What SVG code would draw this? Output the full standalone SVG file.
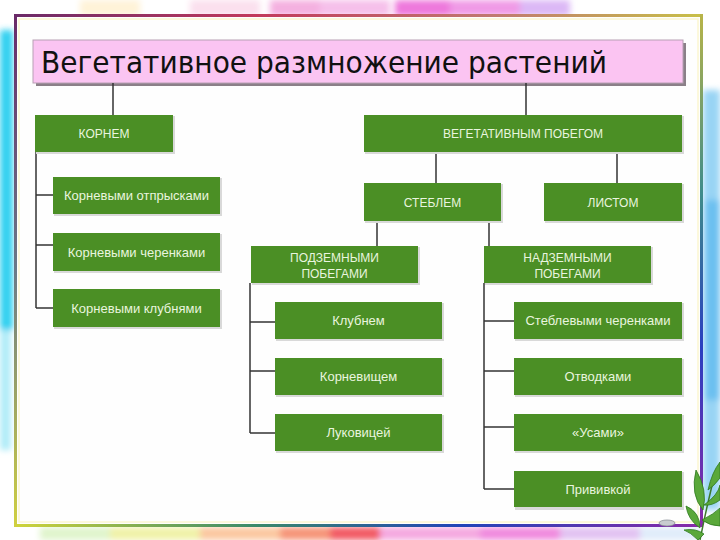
<svg xmlns="http://www.w3.org/2000/svg" width="720" height="540" viewBox="0 0 720 540">
<defs>
<style>
.node rect.box{fill:#4b8f25;}
.node rect.sh{fill:#d9d9d9;}
.node text{fill:#e9f5df;font-family:"Liberation Sans",Arial,sans-serif;text-anchor:middle;}
.up{font-size:12px;}
.lc{font-size:13px;}
#connectors line{stroke:#333;stroke-width:1.5;}
.title{font-family:"DejaVu Sans","Open Sans",sans-serif;font-size:30px;fill:#111;}
.leaf{fill:#5aa83a;stroke:#2f7a20;stroke-width:0.8;}
</style>
<filter id="blur" x="-50%" y="-50%" width="200%" height="200%"><feGaussianBlur stdDeviation="3"/></filter>
<linearGradient id="gTop" x1="0" y1="0" x2="1" y2="0">
<stop offset="0" stop-color="#6a2a68"/><stop offset="0.35" stop-color="#c23a5c"/><stop offset="0.7" stop-color="#c07a70"/><stop offset="1" stop-color="#c8c048"/>
</linearGradient>
<linearGradient id="gRight" x1="0" y1="0" x2="0" y2="1">
<stop offset="0" stop-color="#b8b448"/><stop offset="0.35" stop-color="#3e8c8a"/><stop offset="0.65" stop-color="#2a3fc0"/><stop offset="1" stop-color="#8a2aa8"/>
</linearGradient>
<linearGradient id="gBottom" x1="0" y1="0" x2="1" y2="0">
<stop offset="0" stop-color="#d0d43a"/><stop offset="0.35" stop-color="#3a8a6a"/><stop offset="0.65" stop-color="#2244b8"/><stop offset="1" stop-color="#8a2aa8"/>
</linearGradient>
<linearGradient id="gLeft" x1="0" y1="0" x2="0" y2="1">
<stop offset="0" stop-color="#6a2a68"/><stop offset="0.5" stop-color="#6a7a88"/><stop offset="1" stop-color="#d0d040"/>
</linearGradient>
</defs>

<!-- background -->
<rect width="720" height="540" fill="#ffffff"/>
<g filter="url(#blur)">
<rect x="80" y="0" width="60" height="16" fill="#fff3d8"/>
<rect x="190" y="0" width="70" height="16" fill="#fbe0ee"/>
<rect x="270" y="0" width="60" height="16" fill="#f4b0e0"/>
<rect x="320" y="0" width="70" height="16" fill="#f6c0ea"/>
<rect x="395" y="0" width="60" height="16" fill="#ee78dc"/>
<rect x="450" y="0" width="70" height="16" fill="#f09ae6"/>
<rect x="520" y="0" width="50" height="16" fill="#dcb8f6"/>
<rect x="0" y="30" width="13" height="300" fill="#30d0f0"/>
<rect x="0" y="330" width="11" height="120" fill="#b0ecf8"/>
<rect x="703" y="90" width="17" height="420" fill="#98d4f4"/>
<rect x="705" y="200" width="15" height="200" fill="#6cc0f0"/>
<rect x="40" y="527" width="70" height="13" fill="#e0f4cc"/>
<rect x="110" y="527" width="90" height="13" fill="#f0f2a8"/>
<rect x="200" y="527" width="80" height="13" fill="#fbc8a0"/>
<rect x="280" y="527" width="90" height="13" fill="#f69478"/>
<rect x="330" y="527" width="50" height="13" fill="#f25a64"/>
<rect x="380" y="527" width="100" height="13" fill="#f4a8e0"/>
<rect x="480" y="527" width="80" height="13" fill="#f08ade"/>
<rect x="560" y="527" width="80" height="13" fill="#e2c2f2"/>
<rect x="640" y="527" width="60" height="13" fill="#e0ecfa"/>
</g>

<!-- panel -->
<rect x="16" y="16" width="685" height="509" fill="#fefefe"/>
<rect x="19" y="19" width="679" height="503" fill="none" stroke="#fbf6d0" stroke-width="1.5"/>
<rect x="14" y="14" width="689" height="3" fill="url(#gTop)"/>
<rect x="700" y="14" width="3" height="513" fill="url(#gRight)"/>
<rect x="14" y="524" width="689" height="3" fill="url(#gBottom)"/>
<rect x="14" y="14" width="3" height="513" fill="url(#gLeft)"/>
<ellipse cx="667" cy="523" rx="8" ry="3" fill="#c8ccd0" stroke="#8a9098" stroke-width="0.8"/>

<!-- leaves -->
<g id="leaves">
<path d="M700 540 Q708 500 716 470" fill="none" stroke="#3d7a2a" stroke-width="1.5"/>
<path class="leaf" d="M703 510 Q690 495 696 470 Q708 490 703 510 Z"/>
<path class="leaf" d="M708 490 Q712 472 720 462 L720 478 Q714 486 708 490 Z"/>
<path class="leaf" d="M704 505 Q718 495 720 485 L720 500 Q712 506 704 505 Z"/>
<path class="leaf" d="M700 528 Q688 520 686 506 Q700 512 700 528 Z"/>
<path class="leaf" d="M702 520 Q714 514 720 508 L720 526 Q710 526 702 520 Z"/>
<path class="leaf" d="M698 540 Q690 532 684 530 Q696 528 704 534 Z"/>
</g>

<!-- title -->
<g id="title">
<rect x="36" y="43" width="650" height="43" fill="#5a4a55" opacity="0.7"/>
<rect x="33" y="40" width="650" height="43" fill="#fbc4f2" stroke="#b8a0b4" stroke-width="1"/>
<text class="title" x="41" y="73" textLength="566" lengthAdjust="spacingAndGlyphs">Вегетативное размножение растений</text>
</g>

<!-- connectors -->
<g id="connectors">
<line x1="113" y1="83" x2="113" y2="115"/>
<line x1="526" y1="83" x2="526" y2="115"/>
<line x1="36" y1="152" x2="36" y2="308"/>
<line x1="36" y1="195" x2="53" y2="195"/>
<line x1="36" y1="245" x2="53" y2="245"/>
<line x1="36" y1="308" x2="53" y2="308"/>
<line x1="436" y1="152" x2="436" y2="183"/>
<line x1="617" y1="152" x2="617" y2="183"/>
<line x1="377" y1="221" x2="377" y2="246"/>
<line x1="489" y1="221" x2="489" y2="246"/>
<line x1="250" y1="283" x2="250" y2="433"/>
<line x1="250" y1="322" x2="275" y2="322"/>
<line x1="250" y1="371" x2="275" y2="371"/>
<line x1="250" y1="433" x2="275" y2="433"/>
<line x1="484" y1="283" x2="484" y2="489"/>
<line x1="484" y1="321" x2="514" y2="321"/>
<line x1="484" y1="371" x2="514" y2="371"/>
<line x1="484" y1="427" x2="514" y2="427"/>
<line x1="484" y1="489" x2="514" y2="489"/>
</g>

<!-- nodes -->
<g id="n-kornem" class="node"><rect class="sh" x="36" y="116" width="139" height="38"/><rect class="box" x="35" y="115" width="138" height="37"/><text class="up" x="104" y="138">КОРНЕМ</text></g>
<g id="n-pobeg" class="node"><rect class="sh" x="365" y="116" width="319" height="38"/><rect class="box" x="364" y="115" width="318" height="37"/><text class="up" x="523" y="138">ВЕГЕТАТИВНЫМ ПОБЕГОМ</text></g>
<g id="n-otpr" class="node"><rect class="sh" x="54" y="178" width="168" height="38"/><rect class="box" x="53" y="177" width="167" height="37"/><text class="lc" x="136.5" y="200">Корневыми отпрысками</text></g>
<g id="n-cher" class="node"><rect class="sh" x="54" y="234" width="168" height="39"/><rect class="box" x="53" y="233" width="167" height="38"/><text class="lc" x="136.5" y="257">Корневыми черенками</text></g>
<g id="n-klub" class="node"><rect class="sh" x="54" y="290" width="168" height="39"/><rect class="box" x="53" y="289" width="167" height="38"/><text class="lc" x="136.5" y="313">Корневыми клубнями</text></g>
<g id="n-stebl" class="node"><rect class="sh" x="365" y="184" width="138" height="39"/><rect class="box" x="364" y="183" width="137" height="38"/><text class="up" x="432.5" y="207">СТЕБЛЕМ</text></g>
<g id="n-list" class="node"><rect class="sh" x="545" y="184" width="139" height="39"/><rect class="box" x="544" y="183" width="138" height="38"/><text class="up" x="613" y="207">ЛИСТОМ</text></g>
<g id="n-podz" class="node"><rect class="sh" x="252" y="247" width="168" height="38"/><rect class="box" x="251" y="246" width="167" height="37"/><text class="up" x="334.5" y="262">ПОДЗЕМНЫМИ</text><text class="up" x="334.5" y="278">ПОБЕГАМИ</text></g>
<g id="n-nadz" class="node"><rect class="sh" x="485" y="247" width="168" height="38"/><rect class="box" x="484" y="246" width="167" height="37"/><text class="up" x="567.5" y="262">НАДЗЕМНЫМИ</text><text class="up" x="567.5" y="278">ПОБЕГАМИ</text></g>
<g id="n-klubnem" class="node"><rect class="sh" x="276" y="303" width="168" height="38"/><rect class="box" x="275" y="302" width="167" height="37"/><text class="lc" x="358.5" y="325">Клубнем</text></g>
<g id="n-kornev" class="node"><rect class="sh" x="276" y="359" width="168" height="38"/><rect class="box" x="275" y="358" width="167" height="37"/><text class="lc" x="358.5" y="381">Корневищем</text></g>
<g id="n-lukov" class="node"><rect class="sh" x="276" y="415" width="168" height="38"/><rect class="box" x="275" y="414" width="167" height="37"/><text class="lc" x="358.5" y="437">Луковицей</text></g>
<g id="n-stcher" class="node"><rect class="sh" x="515" y="303" width="169" height="38"/><rect class="box" x="514" y="302" width="168" height="37"/><text class="lc" x="598" y="325">Стеблевыми черенками</text></g>
<g id="n-otvod" class="node"><rect class="sh" x="515" y="359" width="169" height="38"/><rect class="box" x="514" y="358" width="168" height="37"/><text class="lc" x="598" y="381">Отводками</text></g>
<g id="n-usami" class="node"><rect class="sh" x="515" y="415" width="169" height="38"/><rect class="box" x="514" y="414" width="168" height="37"/><text class="lc" x="598" y="437">«Усами»</text></g>
<g id="n-priviv" class="node"><rect class="sh" x="515" y="472" width="169" height="38"/><rect class="box" x="514" y="471" width="168" height="36"/><text class="lc" x="598" y="494">Прививкой</text></g>
</svg>
